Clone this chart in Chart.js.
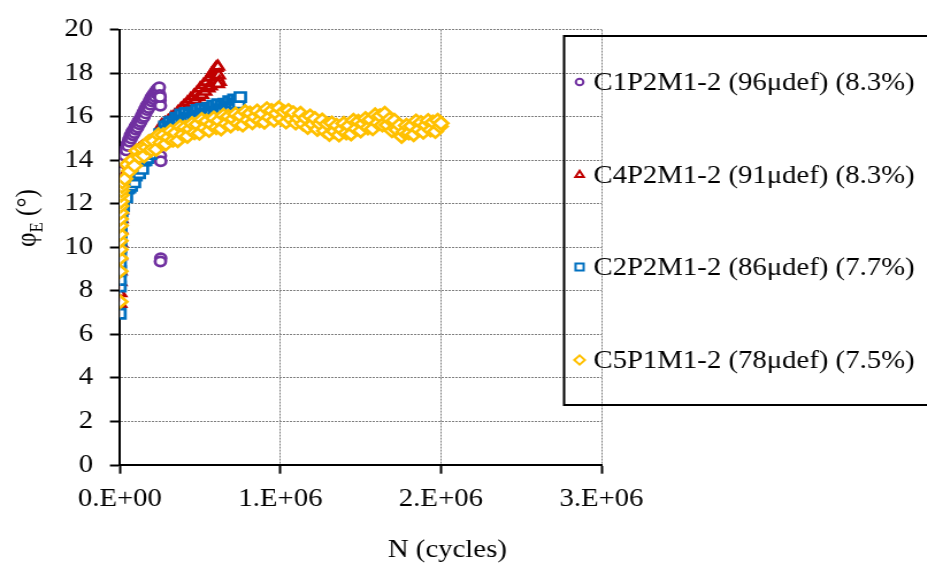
<!DOCTYPE html>
<html>
<head>
<meta charset="utf-8">
<script src="https://cdn.jsdelivr.net/npm/chart.js"></script>
<style>
html, body { margin: 0; padding: 0; background: #fff; overflow: hidden; }
/* a figura original esta esticada na horizontal */
#wrap { width: 806px; height: 570px; transform: scaleX(1.15); transform-origin: 0 0; }
</style>
</head>
<body>
<div id="wrap"><canvas id="grafico"></canvas></div>
<script>
//Cores das series
const corRoxo = "#7030A0";
const corVermelho = "#C00000";
const corAzul = "#0070C0";
const corAmarelo = "#FFC000";

const fonte = '"Liberation Serif", "Times New Roman", serif';

const legendLabels = [
    "C1P2M1-2 (96\u03bcdef) (8.3%)",
    "C4P2M1-2 (91\u03bcdef) (8.3%)",
    "C2P2M1-2 (86\u03bcdef) (7.7%)",
    "C5P1M1-2 (78\u03bcdef) (7.5%)"
];
const xTitle = "N (cycles)";
const yTicks = [0, 2, 4, 6, 8, 10, 12, 14, 16, 18, 20];
const xTicks = [0, 1e6, 2e6, 3e6];

// N em milhares de ciclos, phi em graus
const c1N = [0, 0.5, 1, 2, 3, 5, 7, 10, 15, 20, 25, 30, 35, 40, 45, 50, 55, 60, 65, 70, 75, 80, 85, 90, 95, 100, 105, 110, 115, 120, 125, 130, 135, 140, 145, 150, 155, 160, 165, 170, 175, 180, 185, 190, 195, 200, 205, 210, 215, 220, 225, 230, 235, 240, 245, 248, 250, 252, 250, 252, 254, 254, 252];
const c1Phi = [9.9, 10.7, 11.3, 11.9, 12.3, 12.8, 13.1, 13.5, 13.9, 13.95, 14.25, 14.2, 14.5, 14.45, 14.75, 14.65, 14.95, 14.85, 15.15, 15.0, 15.3, 15.15, 15.4, 15.25, 15.55, 15.4, 15.65, 15.5, 15.8, 15.65, 15.9, 15.75, 16.05, 15.9, 16.2, 16.0, 16.35, 16.15, 16.5, 16.3, 16.6, 16.4, 16.75, 16.55, 16.9, 16.7, 17.0, 16.8, 17.1, 16.9, 17.2, 17.05, 17.3, 17.15, 17.35, 17.0, 16.75, 16.5, 16.9, 14.2, 13.95, 9.5, 9.35];

const c4N = [0, 0, 0.5, 1, 2, 3, 5, 7, 10, 20, 30, 40, 50, 60, 70, 80, 90, 100, 110, 120, 130, 140, 150, 160, 170, 180, 190, 200, 210, 220, 230, 240, 250, 260, 270, 280, 290, 300, 310, 320, 330, 340, 350, 360, 370, 380, 390, 400, 410, 420, 430, 440, 450, 460, 470, 480, 490, 500, 510, 520, 530, 540, 550, 560, 565, 570, 575, 580, 585, 590, 595, 600, 605, 610, 615, 620, 610];
const c4Phi = [7.4, 7.9, 8.4, 8.9, 9.6, 10.2, 10.8, 11.3, 11.7, 12.4, 12.9, 13.3, 13.55, 13.8, 13.95, 14.1, 14.2, 14.35, 14.4, 14.5, 14.55, 14.6, 14.65, 14.7, 14.72, 14.78, 14.8, 14.85, 14.92, 15.0, 15.1, 15.25, 15.4, 15.6, 15.5, 15.7, 15.6, 15.8, 15.7, 15.95, 15.8, 16.05, 15.95, 16.2, 16.05, 16.35, 16.2, 16.5, 16.3, 16.65, 16.45, 16.8, 16.6, 16.95, 16.75, 17.1, 16.9, 17.3, 17.0, 17.45, 17.15, 17.6, 17.3, 17.8, 17.4, 17.95, 17.55, 18.05, 17.65, 18.15, 17.7, 18.25, 17.8, 18.3, 17.9, 17.6, 17.5];

const c2N = [0, 0, 0, 0.5, 1, 1.5, 2, 3, 4, 5, 7, 10, 20, 30, 40, 50, 60, 70, 80, 90, 100, 110, 120, 130, 140, 150, 160, 170, 180, 190, 200, 210, 220, 230, 240, 250, 260, 270, 280, 290, 300, 310, 320, 330, 340, 350, 360, 370, 380, 390, 400, 410, 420, 430, 440, 450, 460, 470, 480, 490, 500, 510, 520, 530, 540, 550, 560, 570, 580, 590, 600, 610, 620, 630, 640, 650, 660, 670, 680, 690, 700, 710, 720, 730, 740, 750];
const c2Phi = [6.95, 8.2, 8.5, 8.9, 9.3, 9.7, 10.0, 10.4, 10.7, 11.0, 11.3, 11.65, 11.9, 12.35, 12.3, 12.7, 12.75, 12.83, 13.15, 12.98, 13.3, 13.53, 13.4, 13.68, 13.6, 13.98, 14.0, 14.1, 14.45, 14.28, 14.6, 14.83, 14.7, 14.95, 14.85, 15.2, 15.2, 15.25, 15.55, 15.33, 15.6, 15.75, 15.55, 15.78, 15.65, 15.95, 15.9, 15.88, 16.1, 15.83, 16.05, 16.17, 15.94, 16.11, 15.93, 16.2, 16.12, 16.09, 16.31, 16.03, 16.25, 16.37, 16.14, 16.31, 16.13, 16.4, 16.32, 16.29, 16.51, 16.23, 16.45, 16.57, 16.34, 16.51, 16.33, 16.6, 16.52, 16.49, 16.71, 16.43, 16.65, 16.79, 16.58, 16.77, 16.61, 16.9];

const c5N = [0, 0, 0, 0.3, 0.6, 1, 1.5, 2, 3, 4, 5, 7, 9, 12, 15, 30, 45, 60, 75, 90, 105, 120, 135, 150, 165, 180, 195, 210, 225, 240, 255, 270, 285, 300, 315, 330, 345, 360, 375, 390, 405, 420, 435, 450, 465, 480, 495, 510, 525, 540, 555, 570, 585, 600, 615, 630, 645, 660, 675, 690, 705, 720, 735, 750, 765, 780, 795, 810, 825, 840, 855, 870, 885, 900, 915, 930, 945, 960, 975, 990, 1005, 1020, 1035, 1050, 1065, 1080, 1095, 1110, 1125, 1140, 1155, 1170, 1185, 1200, 1215, 1230, 1245, 1260, 1275, 1290, 1305, 1320, 1335, 1350, 1365, 1380, 1395, 1410, 1425, 1440, 1455, 1470, 1485, 1500, 1515, 1530, 1545, 1560, 1575, 1590, 1605, 1620, 1635, 1650, 1665, 1680, 1695, 1710, 1725, 1740, 1755, 1770, 1785, 1800, 1815, 1830, 1845, 1860, 1875, 1890, 1905, 1920, 1935, 1950, 1965, 1980, 1995, 2000];
const c5Phi = [7.5, 8.9, 9.5, 9.9, 10.3, 10.6, 11.0, 11.3, 11.6, 11.9, 12.1, 12.4, 12.6, 12.8, 13.0, 13.15, 13.8, 13.5, 14.0, 13.75, 14.43, 14.15, 14.55, 14.2, 14.58, 14.85, 14.48, 14.89, 14.5, 15.16, 14.81, 15.16, 14.75, 15.05, 15.34, 14.92, 15.26, 14.9, 15.54, 15.18, 15.51, 15.1, 15.44, 15.68, 15.27, 15.65, 15.24, 15.86, 15.48, 15.8, 15.37, 15.65, 15.93, 15.5, 15.82, 15.44, 16.06, 15.68, 16.01, 15.58, 15.9, 16.12, 15.69, 16.05, 15.62, 16.23, 15.85, 16.16, 15.73, 15.99, 16.26, 15.82, 16.14, 15.75, 16.36, 15.97, 16.28, 15.84, 16.15, 16.4, 15.9, 16.23, 15.76, 16.28, 15.9, 16.18, 15.71, 15.93, 16.15, 15.67, 15.94, 15.51, 16.03, 15.65, 15.91, 15.42, 15.68, 15.84, 15.35, 15.67, 15.19, 15.71, 15.33, 15.6, 15.16, 15.42, 15.69, 15.26, 15.58, 15.21, 15.83, 15.45, 15.78, 15.35, 15.68, 15.91, 15.49, 15.87, 15.45, 16.08, 15.71, 16.04, 15.62, 16.15, 15.62, 15.89, 15.36, 15.83, 15.4, 15.62, 15.1, 15.3, 15.6, 15.25, 15.57, 15.18, 15.8, 15.41, 15.73, 15.29, 15.61, 15.82, 15.39, 15.75, 15.32, 15.83, 15.55, 15.7];

const series = [
    { label: legendLabels[0], n: c1N, phi: c1Phi, cor: corRoxo, estilo: 'circle', raio: 4.6, raioLegenda: 3.3 },
    { label: legendLabels[1], n: c4N, phi: c4Phi, cor: corVermelho, estilo: 'triangle', raio: 5.7, raioLegenda: 4.2 },
    { label: legendLabels[2], n: c2N, phi: c2Phi, cor: corAzul, estilo: 'rect', raio: 6.5, raioLegenda: 5 },
    { label: legendLabels[3], n: c5N, phi: c5Phi, cor: corAmarelo, estilo: 'rectRot', raio: 6.2, raioLegenda: 4.6 }
];

function desenhaMarcador(ctx, estilo, x, y, r) {
    ctx.beginPath();
    if (estilo === 'circle') {
        ctx.arc(x, y, r, 0, 2 * Math.PI);
    } else if (estilo === 'triangle') {
        ctx.moveTo(x, y - r);
        ctx.lineTo(x + r * 0.866, y + r * 0.5);
        ctx.lineTo(x - r * 0.866, y + r * 0.5);
        ctx.closePath();
    } else if (estilo === 'rect') {
        const s = r * Math.SQRT1_2;
        ctx.rect(x - s, y - s, 2 * s, 2 * s);
    } else {
        ctx.moveTo(x - r, y);
        ctx.lineTo(x, y - r);
        ctx.lineTo(x + r, y);
        ctx.lineTo(x, y + r);
        ctx.closePath();
    }
    ctx.fill();
    ctx.stroke();
}

// legenda com moldura + titulos dos eixos (phi com indice E)
const extras = {
    id: 'extras',
    afterDraw: (chart) => {
        const ctx = chart.ctx;
        ctx.save();

        ctx.lineWidth = 2;
        ctx.strokeStyle = '#000';
        ctx.strokeRect(490.5, 36, 400, 369);

        const linhas = [82, 175, 267, 360];
        series.forEach((s, i) => {
            ctx.lineWidth = 2;
            ctx.strokeStyle = s.cor;
            ctx.fillStyle = '#fff';
            desenhaMarcador(ctx, s.estilo, 504, linhas[i], s.raioLegenda);
            ctx.fillStyle = '#000';
            ctx.font = '25px ' + fonte;
            ctx.textAlign = 'left';
            ctx.textBaseline = 'alphabetic';
            ctx.fillText(s.label, 516, linhas[i] + 8);
        });

        ctx.font = '25px ' + fonte;
        ctx.textAlign = 'center';
        ctx.fillText(xTitle, 389, 557);

        ctx.translate(31, 247);
        ctx.rotate(-Math.PI / 2);
        ctx.textAlign = 'left';
        ctx.fillText('\u03c6', 0, 0);
        let w = ctx.measureText('\u03c6').width;
        ctx.font = '17px ' + fonte;
        ctx.fillText('E', w, 6);
        w += ctx.measureText('E').width;
        ctx.font = '25px ' + fonte;
        ctx.fillText(' (\u00b0)', w, 0);

        ctx.restore();
    }
};

const formataN = (v) => v === 0 ? '0.E+00' : (v / 1e6) + '.E+06';

const grade = {
    color: '#7f7f7f',
    lineWidth: 1,
    drawTicks: true,
    tickLength: 8.7,
    tickColor: '#000',
    tickWidth: 2,
    tickBorderDash: []
};

new Chart(document.getElementById('grafico'), {
    type: 'scatter',
    data: {
        datasets: series.map((s, i) => ({
            label: s.label,
            data: s.n.map((n, k) => ({ x: n * 1000, y: s.phi[k] })),
            pointStyle: s.estilo,
            pointRadius: s.raio,
            pointBorderWidth: 2.7,
            pointBorderColor: s.cor,
            pointBackgroundColor: '#fff',
            showLine: false,
            order: 3 - i
        }))
    },
    options: {
        responsive: true,
        maintainAspectRatio: false,
        animation: false,
        layout: { padding: { left: 0, top: 20, right: 283, bottom: 0 } },
        plugins: { legend: { display: false }, tooltip: { enabled: false } },
        scales: {
            x: {
                type: 'linear',
                min: 0,
                max: 3e6,
                afterBuildTicks: (scale) => { scale.ticks = xTicks.map(v => ({ value: v })); },
                afterFit: (scale) => { scale.height = 105; },
                ticks: { color: '#000', font: { family: fonte, size: 25 }, padding: 11, maxRotation: 0, callback: formataN },
                grid: grade,
                border: { color: '#000', width: 2, dash: [2, 1] }
            },
            y: {
                min: 0,
                max: 20,
                afterBuildTicks: (scale) => { scale.ticks = yTicks.map(v => ({ value: v })); },
                afterFit: (scale) => { scale.width = 104.3; },
                ticks: { color: '#000', font: { family: fonte, size: 25 }, padding: 14.6 },
                grid: grade,
                border: { color: '#000', width: 2, dash: [2, 1] }
            }
        }
    },
    plugins: [extras]
});
</script>
</body>
</html>
